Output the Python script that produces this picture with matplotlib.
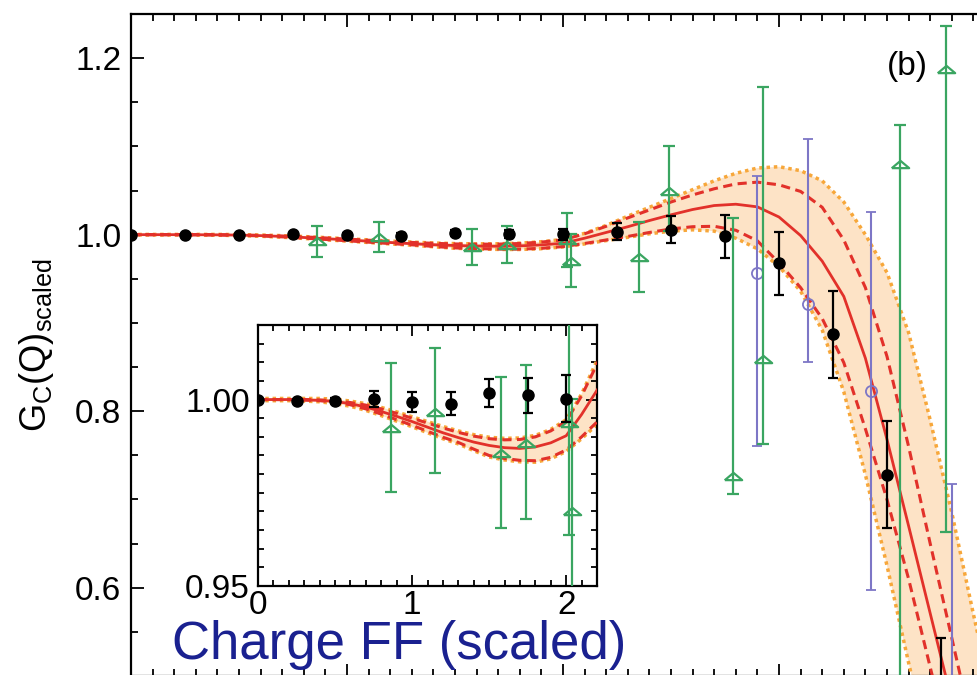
import numpy as np
import matplotlib.pyplot as plt
from matplotlib.ticker import MultipleLocator, FormatStrFormatter

plt.rcParams['font.family'] = ['Liberation Sans', 'DejaVu Sans']
plt.rcParams['mathtext.fontset'] = 'custom'
plt.rcParams['mathtext.rm'] = 'Liberation Sans'

# ---- fit curves: central value, 68% (dashed) and 95% (dotted) envelopes ----
q_fit = [0.0, 0.1, 0.2, 0.3, 0.4, 0.5, 0.6, 0.7, 0.8, 0.9,
         1.0, 1.1, 1.2, 1.3, 1.4, 1.5, 1.6, 1.7, 1.8, 1.9,
         2.0, 2.1, 2.2, 2.3, 2.4, 2.5, 2.6, 2.7, 2.8, 2.9,
         3.0, 3.1, 3.2, 3.3, 3.4, 3.5, 3.6, 3.7, 3.8, 3.9, 4.0]
g_central = [1.0000, 1.0000, 1.0000, 0.9999, 0.9998, 0.9995, 0.9989, 0.9980, 0.9968, 0.9955,
             0.9941, 0.9926, 0.9911, 0.9898, 0.9886, 0.9877, 0.9871, 0.9869, 0.9873, 0.9884,
             0.9903, 0.9960, 1.0025, 1.0090, 1.0160, 1.0225, 1.0285, 1.0330, 1.0345, 1.0315,
             1.0200, 0.9990, 0.9700, 0.9300, 0.8600, 0.7680, 0.6700, 0.5710, 0.4720, 0.3750, 0.2800]
g_hi68 = [1.0000, 1.0000, 1.0000, 1.0000, 0.9999, 0.9997, 0.9992, 0.9985, 0.9975, 0.9963,
          0.9950, 0.9937, 0.9924, 0.9912, 0.9902, 0.9895, 0.9892, 0.9893, 0.9900, 0.9916,
          0.9942, 1.0010, 1.0095, 1.0190, 1.0280, 1.0370, 1.0450, 1.0520, 1.0575, 1.0595,
          1.0565, 1.0490, 1.0310, 0.9940, 0.9400, 0.8620, 0.7600, 0.6500, 0.5430, 0.4350, 0.3300]
g_lo68 = [1.0000, 1.0000, 1.0000, 0.9999, 0.9997, 0.9993, 0.9986, 0.9975, 0.9961, 0.9946,
          0.9931, 0.9915, 0.9899, 0.9885, 0.9867, 0.9850, 0.9842, 0.9837, 0.9836, 0.9845,
          0.9865, 0.9900, 0.9940, 0.9980, 1.0025, 1.0065, 1.0090, 1.0095, 1.0050, 0.9930,
          0.9680, 0.9400, 0.9050, 0.8550, 0.7800, 0.7000, 0.6100, 0.5100, 0.4100, 0.3100, 0.2100]
g_hi95 = [1.0003, 1.0003, 1.0003, 1.0003, 1.0003, 1.0001, 0.9996, 0.9989, 0.9979, 0.9967,
          0.9954, 0.9941, 0.9928, 0.9916, 0.9906, 0.9899, 0.9896, 0.9897, 0.9904, 0.9920,
          0.9946, 1.0015, 1.0105, 1.0210, 1.0310, 1.0410, 1.0510, 1.0610, 1.0695, 1.0755,
          1.0770, 1.0725, 1.0610, 1.0370, 1.0000, 0.9570, 0.8890, 0.7900, 0.6850, 0.5700, 0.4600]
g_lo95 = [0.9997, 0.9997, 0.9997, 0.9996, 0.9994, 0.9989, 0.9982, 0.9971, 0.9957, 0.9942,
          0.9927, 0.9911, 0.9895, 0.9881, 0.9863, 0.9846, 0.9838, 0.9833, 0.9832, 0.9841,
          0.9861, 0.9895, 0.9933, 0.9970, 1.0010, 1.0040, 1.0055, 1.0040, 0.9960, 0.9840,
          0.9640, 0.9360, 0.8920, 0.8220, 0.7280, 0.6250, 0.5150, 0.4100, 0.3100, 0.2100, 0.1100]

# ---- data sets ----
# filled black circles
q_blk = [0.0, 0.25, 0.5, 0.75, 1.0, 1.25, 1.5, 1.75, 2.0, 2.25, 2.5, 2.75, 3.0, 3.25, 3.5, 3.75]
g_blk = [1.0, 0.9997, 0.9997, 1.0002, 0.9993, 0.9989, 1.0017, 1.0011, 1.0002,
         1.0034, 1.0057, 0.998, 0.9674, 0.887, 0.728, 0.48]
e_blk = [0.0002, 0.0002, 0.0006, 0.0021, 0.0027, 0.0031, 0.0037, 0.0047, 0.0063,
         0.0095, 0.015, 0.024, 0.036, 0.049, 0.0606, 0.063]

# open green triangles (asymmetric errors)
q_grn = [0.86, 1.15, 1.58, 1.74, 2.02, 2.035, 2.35, 2.49, 2.785, 2.925, 3.56, 3.775]
g_grn = [0.9924, 0.9968, 0.9857, 0.9884, 0.9937, 0.9702, 0.9742, 1.050, 0.727, 0.859, 1.0803, 1.1875]
elo_grn = [0.0173, 0.0166, 0.0202, 0.0203, 0.030, 0.030, 0.039, 0.046, 0.0205, 0.096, 0.62, 0.524]
ehi_grn = [0.0173, 0.0170, 0.0204, 0.0210, 0.031, 0.030, 0.040, 0.050, 0.2916, 0.308, 0.0436, 0.049]

# open purple circles
q_pur = [2.897, 3.136, 3.426, 3.803]
g_pur = [0.9568, 0.9212, 0.8227, 0.43]
elo_pur = [0.1958, 0.0652, 0.2253, 0.29]
ehi_pur = [0.1095, 0.1875, 0.2027, 0.2874]

RED = '#e2312a'
ORANGE = '#f7a73a'
BAND = '#fde3c6'
GREEN = '#3aa561'
PURPLE = '#7d76c6'
BLUE = '#1a2190'

# flat open triangle used for the green set
TRI = [(-1, -0.42), (1, -0.42), (0, 0.42), (-1, -0.42)]

W, H = 977, 675
fig = plt.figure(figsize=(W / 100, H / 100), dpi=100)


def box(l, t, r, b):
    return [l / W, 1 - b / H, (r - l) / W, (b - t) / H]


def draw_all(a):
    a.fill_between(q_fit, g_lo95, g_hi95, color=BAND, lw=0, zorder=1)
    for g in (g_hi95, g_lo95):
        a.plot(q_fit, g, color=ORANGE, lw=2.5, ls=(0, (1, 1.1)), zorder=2)
    for g in (g_hi68, g_lo68):
        a.plot(q_fit, g, color=RED, lw=2.2, ls=(0, (3, 1.8)), zorder=3)
    a.plot(q_fit, g_central, color=RED, lw=2.0, zorder=3)

    a.errorbar(q_pur, g_pur, yerr=[elo_pur, ehi_pur], fmt='o', ms=8, mfc='none',
               mec=PURPLE, mew=1.3, ecolor=PURPLE, elinewidth=1.5, capsize=3.8,
               capthick=1.5, zorder=4)
    a.errorbar(q_grn, g_grn, yerr=[elo_grn, ehi_grn], fmt='none', ecolor=GREEN,
               elinewidth=1.6, capsize=4.2, capthick=1.6, zorder=5)
    a.plot(q_grn, g_grn, ls='none', marker=TRI, ms=12.5, mfc='none', mec=GREEN,
           mew=1.6, zorder=5)
    a.errorbar(q_blk, g_blk, yerr=e_blk, fmt='o', ms=8, color='black',
               elinewidth=1.6, capsize=3.8, capthick=1.6, zorder=6)


# main panel (extends past the right and bottom edges of the canvas)
ax = fig.add_axes(box(131, 14, 995, 676))
draw_all(ax)
ax.set_xlim(0, 4)
ax.set_ylim(0.5, 1.25)
ax.xaxis.set_major_locator(MultipleLocator(1))
ax.xaxis.set_minor_locator(MultipleLocator(0.1))
ax.yaxis.set_major_locator(MultipleLocator(0.2))
ax.yaxis.set_minor_locator(MultipleLocator(0.05))
ax.yaxis.set_major_formatter(FormatStrFormatter('%.1f'))
ax.tick_params(which='both', direction='in', top=True, right=True,
               labelbottom=False, labelsize=24, width=1.3, pad=7)
ax.tick_params(which='major', length=9)
ax.tick_params(which='minor', length=5)
for s in ax.spines.values():
    s.set_linewidth(1.6)

# inset: zoom on the low-Q region
ins = fig.add_axes(box(258, 325, 597, 586), zorder=10)
ins.set_facecolor('white')
draw_all(ins)
ins.set_xlim(0, 2.2)
ins.set_ylim(0.95, 1.02)
ins.xaxis.set_major_locator(MultipleLocator(1))
ins.xaxis.set_minor_locator(MultipleLocator(0.1))
ins.yaxis.set_major_locator(MultipleLocator(0.05))
ins.yaxis.set_minor_locator(MultipleLocator(0.005))
ins.yaxis.set_major_formatter(FormatStrFormatter('%.2f'))
ins.xaxis.set_major_formatter(FormatStrFormatter('%d'))
ins.tick_params(which='both', direction='in', top=True, right=True,
                labelsize=24, width=1.3, pad=6)
ins.tick_params(axis='x', pad=3)
ins.tick_params(which='major', length=8)
ins.tick_params(which='minor', length=4.5)
for s in ins.spines.values():
    s.set_linewidth(1.6)

fig.text(36 / W, 1 - 345 / H, r'$\mathregular{G_C(Q)_{scaled}}$', fontsize=26,
         rotation=90, ha='center', va='center')
fig.text(399 / W, 1 - 645 / H, 'Charge FF (scaled)', fontsize=38, color=BLUE,
         ha='center', va='center')
fig.text(907 / W, 1 - 66 / H, '(b)', fontsize=24, ha='center', va='center')

fig.savefig('out.png', dpi=100)
